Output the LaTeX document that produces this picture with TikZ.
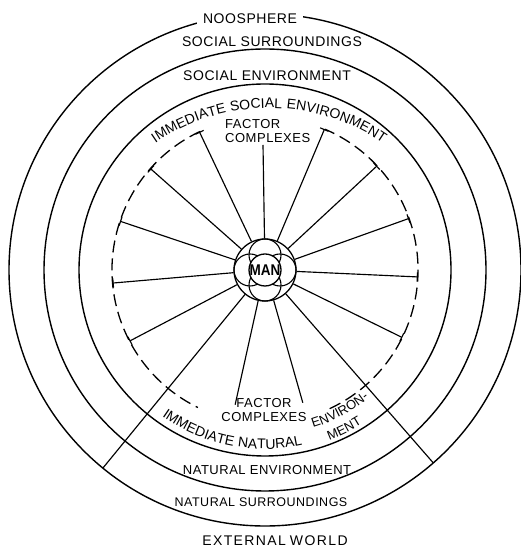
\documentclass[tikz,border=0pt]{standalone}
\usepackage{fontspec}
\setmainfont{Liberation Sans}
\newfontfamily\labfont[LetterSpace=4]{Liberation Sans}
\newcommand\lab{\labfont\fontsize{14pt}{15pt}\selectfont}
\newcommand\labs{\labfont\fontsize{13pt}{14pt}\selectfont}
\newcommand\labss{\labfont\fontsize{12.5pt}{14pt}\selectfont}
\usetikzlibrary{arrows.meta,decorations.text,calc}
\begin{document}
\begin{tikzpicture}[x=1pt,y=1pt,
  ring/.style={line width=1.4pt},
  spoke/.style={line width=1.15pt},
  tspoke/.style={line width=1.15pt,-{Bar[width=9pt,line width=1.15pt]}},
  dashring/.style={line width=1.3pt,dash pattern=on 12pt off 6pt},
  lbl/.style={font=\lab,inner sep=1pt},
  arctext/.style={decorate,decoration={text along path,text align=center,text={#1}}}
]
\useasboundingbox (0,0) rectangle (521,548);
\coordinate (C) at (265,278);
\coordinate (T) at (269,238);
% rings
\draw[ring] (C) circle[radius=256pt];
\draw[ring] (C) circle[radius=221pt];
\draw[ring] (C) circle[radius=186pt];
\draw[dashring] ($(C)+(-65:153pt)$) arc[start angle=-65,end angle=67,radius=153pt];
\draw[dashring] ($(C)+(115:153pt)$) arc[start angle=115,end angle=244,radius=153pt];
% centre
\node[circle,draw,line width=1.3pt,minimum size=62pt,inner sep=0pt] (man) at (C) {};
\foreach \a in {0,90,180,270} \draw[line width=1.1pt] ($(C)+(\a:15pt)$) circle[radius=16pt];
\draw[line width=1.3pt,fill=white] (C) circle[radius=16pt];
\node[font=\bfseries\fontsize{13.5pt}{14pt}\selectfont,inner sep=0pt,yscale=1.15] (mantext) at (C) {MAN};
% labels
\node[lbl,fill=white,inner xsep=6pt] (noo) at (250,529.5) {NOOSPHERE};
\node[lbl] (ssur) at (272,506) {SOCIAL SURROUNDINGS};
\node[lbl] (senv) at (267,472) {SOCIAL ENVIRONMENT};
\node[lbl,font=\labs,align=left,anchor=west] (fctop) at (224,416.5) {FACTOR\\COMPLEXES};
\node[lbl,font=\labs,align=center] (fcbot) at (264,138) {FACTOR\\COMPLEXES};
\node[lbl,font=\labs] (nenv) at (267,78) {NATURAL ENVIRONMENT};
\node[lbl,font=\labss] (nsur) at (261,46) {NATURAL SURROUNDINGS};
\node[lbl,font={\labfont\addfontfeature{LetterSpace=10}\fontsize{14pt}{15pt}\selectfont}] (ext) at (275,7) {EXTERNAL\hspace{4pt}WORLD};
% arc labels
\path[arctext={|\lab|IMMEDIATE SOCIAL ENVIRONMENT}] ($(T)+(128:202pt)$) arc[start angle=128,end angle=52,radius=202pt];
\path[arctext={|\lab|IMMEDIATE NATURAL}] ($(C)+(-126:179pt)$) arc[start angle=-126,end angle=-77,radius=179pt];
\path[arctext={|\labs|ENVIRON-}] ($(C)+(-74:165pt)$) arc[start angle=-74,end angle=-50,radius=165pt];
\path[arctext={|\labs|MENT}] ($(C)+(-71:182pt)$) arc[start angle=-71,end angle=-56,radius=182pt];
% spoke ends
\coordinate (s1) at (263,403);
\foreach \n/\a in {2/67.1,3/42.9,4/19.7,5/-2.6,6/-26.2,11/-152.3,12/-175.1,13/161.4,14/138.5,15/115.4}
  \coordinate (s\n) at ($(C)+(\a:153pt)$);
\coordinate (s8) at ($(C)+(-74.1:138pt)$);
\coordinate (s10) at ($(C)+(-102.5:138pt)$);
\coordinate (L1) at ($(C)+(-48.9:256pt)$);
\coordinate (L2) at ($(C)+(-129.3:256pt)$);
% spokes
\draw[spoke] (man) -- (s1);
\foreach \n in {2,3,4,5,6,11,12,13,14,15} \draw[tspoke] (man) -- (s\n);
\draw[spoke] (man) -- (s8);
\draw[spoke] (man) -- (s10);
\draw[spoke] (man) -- (L1);
\draw[spoke] (man) -- (L2);
\end{tikzpicture}
\end{document}
